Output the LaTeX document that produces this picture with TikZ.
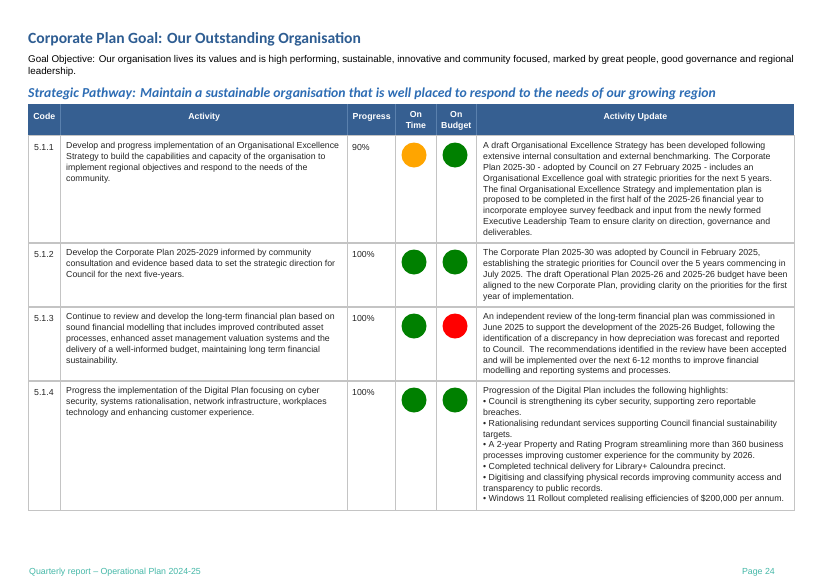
\documentclass[tikz,border=0pt]{standalone}
\usepackage{fontspec}
\setmainfont{Liberation Sans}
\newfontfamily\headfont{Carlito}
\definecolor{titleblue}{HTML}{2E5D92}
\definecolor{pathblue}{HTML}{2E6DB4}
\definecolor{headblue}{HTML}{365F91}
\definecolor{headline}{HTML}{5A80AD}
\definecolor{gridgray}{HTML}{C4C4C4}
\definecolor{footteal}{HTML}{45B8A8}
\definecolor{amber}{HTML}{FFA500}
\definecolor{okgreen}{HTML}{008000}
\definecolor{alertred}{HTML}{FF0000}
\newcommand{\cellfont}{\fontsize{8.75}{10.8}\selectfont}
\tikzset{
	cell/.style={anchor=north west, inner sep=0pt, align=left, font=\cellfont, text=black!85, execute at begin node=\strut},
	head/.style={anchor=north, inner sep=0pt, align=center, text=white, font=\cellfont\bfseries, execute at begin node=\strut},
	dot/.style={circle, minimum size=25pt, inner sep=0pt},
}
\begin{document}
\begin{tikzpicture}[x=1pt, y=-1pt]
	\useasboundingbox[fill=white] (0,0) rectangle (821,581);
	% headings
	\node (Goal) at (28, 43)	[anchor=base west, inner sep=0pt, text=titleblue, font=\headfont\bfseries\fontsize{15.6}{18}\selectfont]	{Corporate Plan Goal: Our Outstanding Organisation};
	\node (Obj) at (28, 55)	[anchor=north west, inner sep=0pt, align=left, font=\fontsize{9.8}{11.8}\selectfont, execute at begin node=\strut]	{Goal Objective: Our organisation lives its values and is high performing, sustainable, innovative and community focused, marked by great people, good governance and regional\\leadership.};
	\node (Path) at (28, 97)	[anchor=base west, inner sep=0pt, text=pathblue, font=\headfont\bfseries\itshape\fontsize{13.7}{17}\selectfont]	{Strategic Pathway: Maintain a sustainable organisation that is well placed to respond to the needs of our growing region};
	% table frame
	\fill[headblue] (28,104) rectangle (794,135.5);
	\foreach \x in {60.7,347.7,395.7,436,476.7}
		\draw[headline, line width=0.6pt] (\x,104) -- (\x,135.5);
	\foreach \x in {60.7,347.7,395.7,436,476.7}
		\draw[gridgray, line width=0.8pt] (\x,135.5) -- (\x,510);
	\foreach \y in {243,307,381}
		\draw[gridgray, line width=1.5pt] (28,\y) -- (794,\y);
	\draw[gridgray, line width=0.8pt] (28,135.5) rectangle (794,510);
	% header row
	\node (hCode) at (44.3, 111.4)	[head]	{Code};
	\node (hAct) at (204.2, 111.4)	[head]	{Activity};
	\node (hProg) at (371.7, 111.4)	[head]	{Progress};
	\node (hTime) at (415.9, 111.4)	[head]	{On\\Time};
	\node (hBud) at (456.3, 111.4)	[head]	{On\\Budget};
	\node (hUpd) at (635.4, 111.4)	[head]	{Activity Update};
	% row 5.1.1
	\node (C1) at (34, 142.4)	[cell]	{5.1.1};
	\node (A1) at (66, 142.4)	[cell]	{Develop and progress implementation of an Organisational Excellence\\Strategy to build the capabilities and capacity of the organisation to\\implement regional objectives and respond to the needs of the\\community.};
	\node (P1) at (352, 142.4)	[cell]	{90\%};
	\node (T1) at (414, 155)	[dot, fill=amber]	{};
	\node (B1) at (455, 155)	[dot, fill=okgreen]	{};
	\node (U1) at (483, 142.4)	[cell]	{A draft Organisational Excellence Strategy has been developed following\\extensive internal consultation and external benchmarking. The Corporate\\Plan 2025-30 - adopted by Council on 27 February 2025 - includes an\\Organisational Excellence goal with strategic priorities for the next 5 years.\\The final Organisational Excellence Strategy and implementation plan is\\proposed to be completed in the first half of the 2025-26 financial year to\\incorporate employee survey feedback and input from the newly formed\\Executive Leadership Team to ensure clarity on direction, governance and\\deliverables.};
	% row 5.1.2
	\node (C2) at (34, 249.4)	[cell]	{5.1.2};
	\node (A2) at (66, 249.4)	[cell]	{Develop the Corporate Plan 2025-2029 informed by community\\consultation and evidence based data to set the strategic direction for\\Council for the next five-years.};
	\node (P2) at (352, 249.4)	[cell]	{100\%};
	\node (T2) at (414, 262)	[dot, fill=okgreen]	{};
	\node (B2) at (455, 262)	[dot, fill=okgreen]	{};
	\node (U2) at (483, 249.4)	[cell]	{The Corporate Plan 2025-30 was adopted by Council in February 2025,\\establishing the strategic priorities for Council over the 5 years commencing in\\July 2025. The draft Operational Plan 2025-26 and 2025-26 budget have been\\aligned to the new Corporate Plan, providing clarity on the priorities for the first\\year of implementation.};
	% row 5.1.3
	\node (C3) at (34, 313.4)	[cell]	{5.1.3};
	\node (A3) at (66, 313.4)	[cell]	{Continue to review and develop the long-term financial plan based on\\sound financial modelling that includes improved contributed asset\\processes, enhanced asset management valuation systems and the\\delivery of a well-informed budget, maintaining long term financial\\sustainability.};
	\node (P3) at (352, 313.4)	[cell]	{100\%};
	\node (T3) at (414, 326)	[dot, fill=okgreen]	{};
	\node (B3) at (455, 326)	[dot, fill=alertred]	{};
	\node (U3) at (483, 313.4)	[cell]	{An independent review of the long-term financial plan was commissioned in\\June 2025 to support the development of the 2025-26 Budget, following the\\identification of a discrepancy in how depreciation was forecast and reported\\to Council.\ \ The recommendations identified in the review have been accepted\\and will be implemented over the next 6-12 months to improve financial\\modelling and reporting systems and processes.};
	% row 5.1.4
	\node (C4) at (34, 387.4)	[cell]	{5.1.4};
	\node (A4) at (66, 387.4)	[cell]	{Progress the implementation of the Digital Plan focusing on cyber\\security, systems rationalisation, network infrastructure, workplaces\\technology and enhancing customer experience.};
	\node (P4) at (352, 387.4)	[cell]	{100\%};
	\node (T4) at (414, 400)	[dot, fill=okgreen]	{};
	\node (B4) at (455, 400)	[dot, fill=okgreen]	{};
	\node (U4) at (483, 387.4)	[cell]	{Progression of the Digital Plan includes the following highlights:\\• Council is strengthening its cyber security, supporting zero reportable\\breaches.\\• Rationalising redundant services supporting Council financial sustainability\\targets.\\• A 2-year Property and Rating Program streamlining more than 360 business\\processes improving customer experience for the community by 2026.\\• Completed technical delivery for Library+ Caloundra precinct.\\• Digitising and classifying physical records improving community access and\\transparency to public records.\\• Windows 11 Rollout completed realising efficiencies of \$200,000 per annum.};
	% footer
	\node (Foot) at (29, 574.5)	[anchor=base west, inner sep=0pt, text=footteal, font=\fontsize{8.8}{10}\selectfont]	{Quarterly report – Operational Plan 2024-25};
	\node (Page) at (775, 574.5)	[anchor=base east, inner sep=0pt, text=footteal, font=\fontsize{8.8}{10}\selectfont]	{Page 24};
\end{tikzpicture}
\end{document}
